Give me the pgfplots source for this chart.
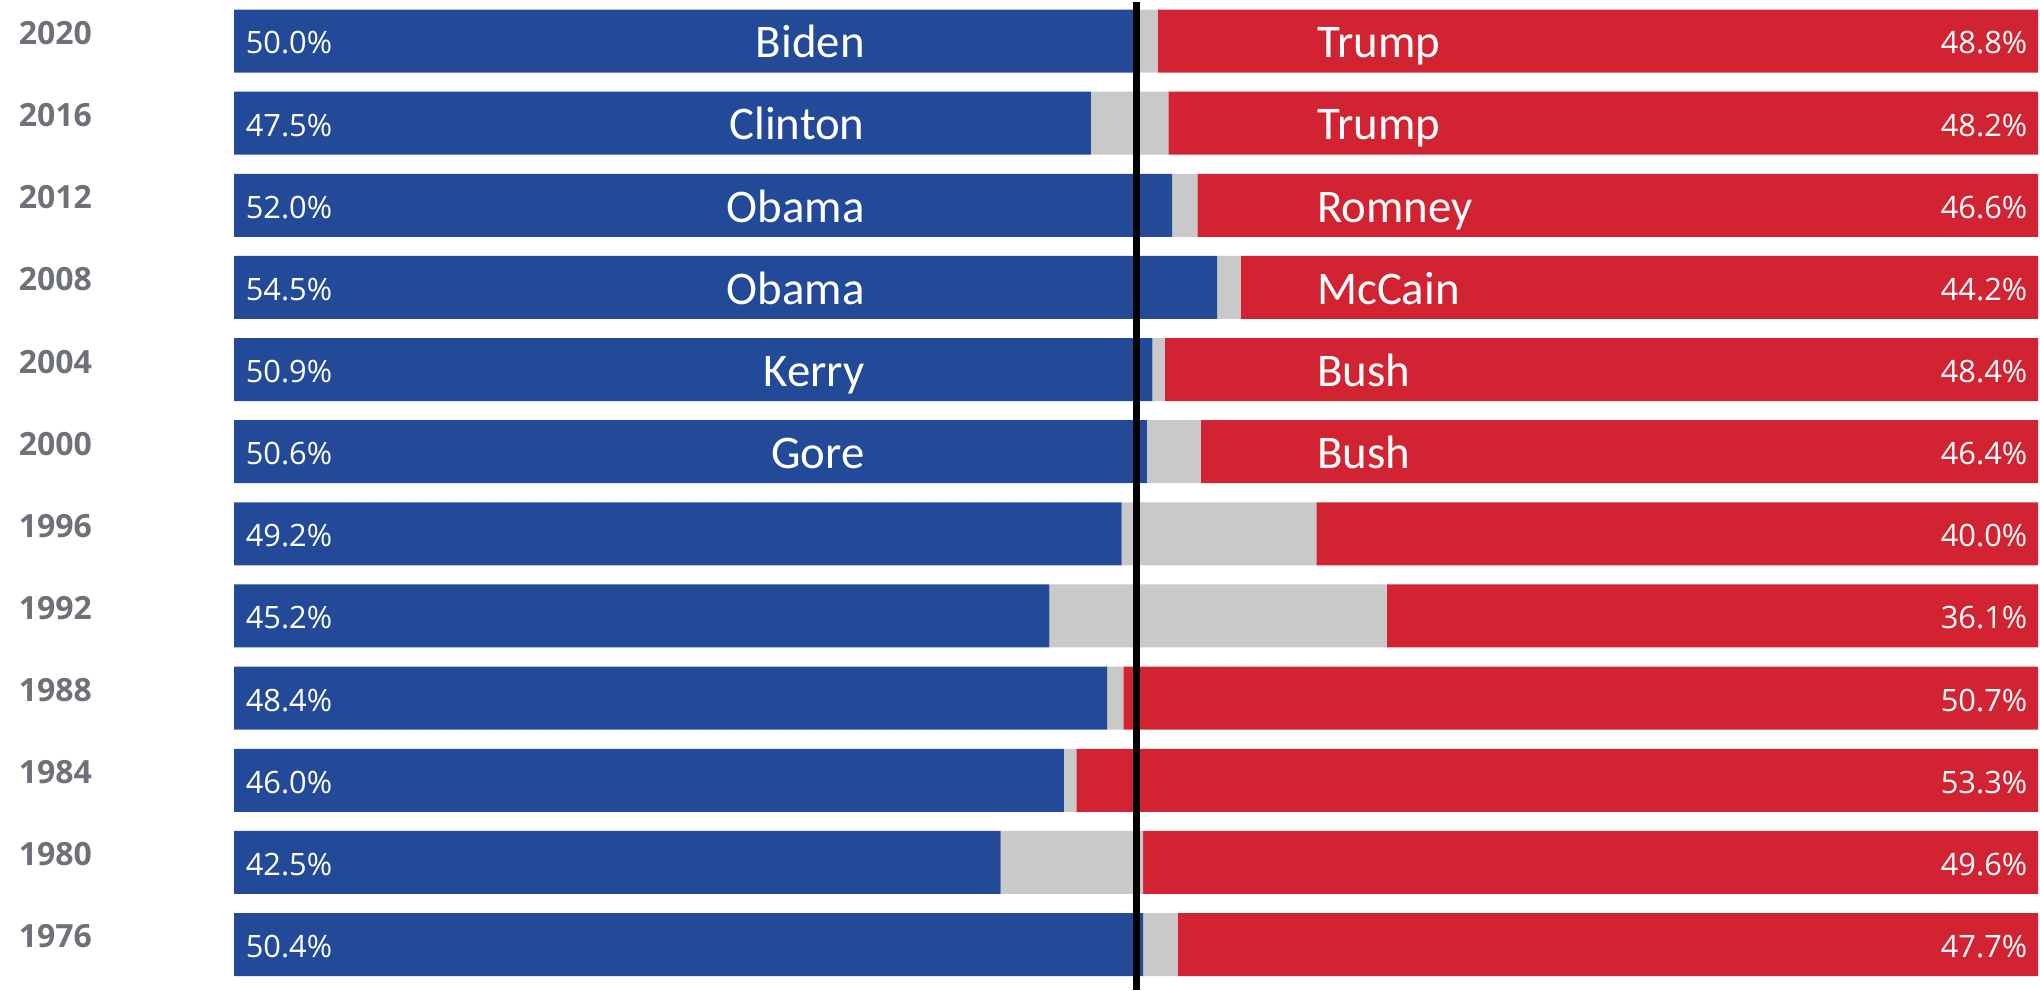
\documentclass[border=0pt]{standalone}
\usepackage{pgfplots}
\pgfplotsset{compat=1.18}
\usepackage{pgfplotstable}
\usepackage{fontspec}
\setmainfont{Open Sans}
\newfontfamily\namefont{Carlito}
\definecolor{dblue}{RGB}{35,74,152}
\definecolor{rred}{RGB}{210,35,50}
\definecolor{ogray}{RGB}{201,201,201}
\definecolor{ygray}{RGB}{110,114,120}

\tikzset{
  pct/.style={text=white, font=\fontsize{7.7pt}{8pt}\selectfont, inner sep=0pt},
  yr/.style={text=ygray, font=\fontsize{8pt}{9pt}\selectfont\bfseries, inner sep=0pt, anchor=west, yshift=2pt},
  nm/.style={text=white, font=\namefont\fontsize{11.7pt}{13pt}\selectfont, inner sep=0pt},
}

\pgfplotstableread{
idx year D O R
0 2020 50.0 1.2 48.8
1 2016 47.5 4.3 48.2
2 2012 52.0 1.4 46.6
3 2008 54.5 1.3 44.2
4 2004 50.9 0.7 48.4
5 2000 50.6 3.0 46.4
6 1996 49.2 10.8 40.0
7 1992 45.2 18.7 36.1
8 1988 48.4 0.9 50.7
9 1984 46.0 0.7 53.3
10 1980 42.5 7.9 49.6
11 1976 50.4 1.9 47.7
}\data

\begin{document}
\begin{tikzpicture}
\begin{axis}[
  width=510pt, height=247.5pt, scale only axis,
  xmin=-12.971, xmax=100.111, ymin=-0.4994, ymax=11.554,
  y dir=reverse, hide axis, clip=false,
  xbar stacked, bar width=15.75pt,
]
\addplot[fill=dblue, draw=none] table[x=D, y=idx]{\data};
\addplot[fill=ogray, draw=none] table[x=O, y=idx]{\data};
\addplot[fill=rred, draw=none] table[x=R, y=idx]{\data};

\path (rel axis cs:0,0) rectangle (rel axis cs:1,1);
\coordinate (top) at (axis cs:50,-0.475);
\coordinate (bot) at (axis cs:50,11.554);
\pgfplotsinvokeforeach{0,...,11}{
  \coordinate (Y#1) at (axis cs:-11.97,#1);
  \coordinate (L#1) at (axis cs:0,#1);
  \coordinate (R#1) at (axis cs:100,#1);
  \coordinate (NL#1) at (axis cs:35,#1);
  \coordinate (NR#1) at (axis cs:60,#1);
}
\end{axis}

\draw[overlay, black, line width=1.75pt] (top) -- (bot);

\foreach \i/\y in {0/2020,1/2016,2/2012,3/2008,4/2004,5/2000,6/1996,7/1992,8/1988,9/1984,10/1980,11/1976}
  \node[yr] at (Y\i) {\y};

\foreach \i/\v in {0/50.0,1/47.5,2/52.0,3/54.5,4/50.9,5/50.6,6/49.2,7/45.2,8/48.4,9/46.0,10/42.5,11/50.4}
  \node[pct, anchor=west, xshift=2.75pt, yshift=-0.5pt] at (L\i) {\v\%};

\foreach \i/\v in {0/48.8,1/48.2,2/46.6,3/44.2,4/48.4,5/46.4,6/40.0,7/36.1,8/50.7,9/53.3,10/49.6,11/47.7}
  \node[pct, anchor=east, xshift=-2.5pt, yshift=-0.5pt] at (R\i) {\v\%};

\foreach \i/\n in {0/Biden,1/Clinton,2/Obama,3/Obama,4/Kerry,5/Gore}
  \node[nm, anchor=base east, yshift=-4.2pt] at (NL\i) {\n};

\foreach \i/\n in {0/Trump,1/Trump,2/Romney,3/McCain,4/Bush,5/Bush}
  \node[nm, anchor=base west, yshift=-4.2pt] at (NR\i) {\n};
\end{tikzpicture}
\end{document}
